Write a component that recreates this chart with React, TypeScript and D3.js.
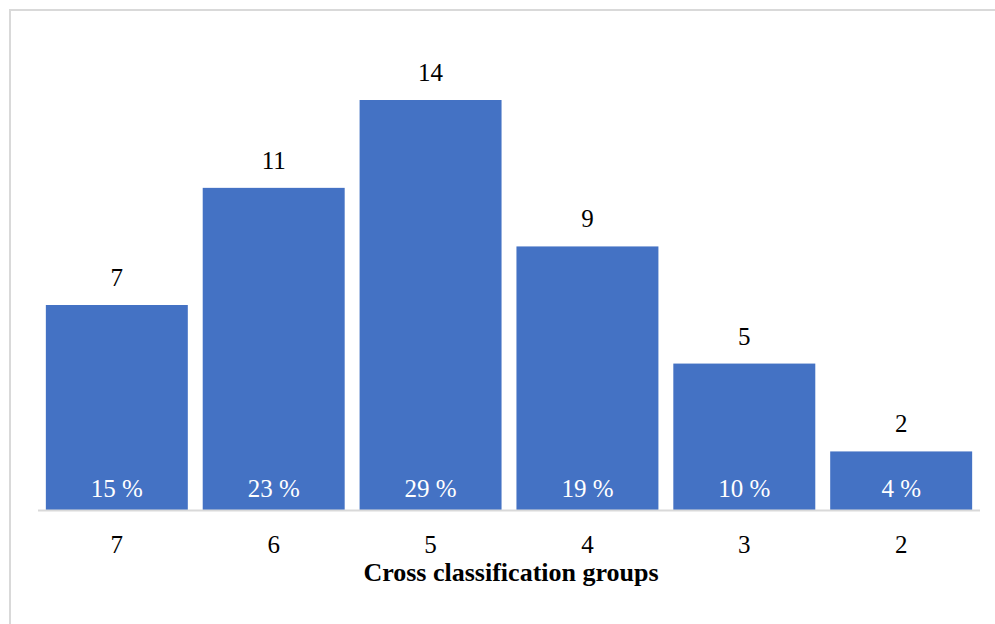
import React from "react";
import * as d3 from "d3";

const categories = ["7", "6", "5", "4", "3", "2"];
const counts = [7, 11, 14, 9, 5, 2];
const percents = ["15 %", "23 %", "29 %", "19 %", "10 %", "4 %"];
const axisTitle = "Cross classification groups";

const W = 995;
const H = 624;
const FONT = "'Liberation Serif', 'Times New Roman', serif";

export default function App() {
  const x = d3.scaleBand<string>().domain(categories).range([38, 980]).paddingInner(0.095).paddingOuter(0.05);
  const y = d3.scaleLinear().domain([0, 14]).range([510, 100]);
  return (
    <svg width={W} height={H} style={{ position: "absolute", left: 0, top: 0 }}>
      <rect x={0} y={0} width={W} height={H} fill="#fff" />
      <rect x={10} y={10} width={W + 20} height={H + 20} fill="#fff" stroke="#d9d9d9" strokeWidth={2} />
      {categories.map((c, i) => {
        const bx = x(c)!;
        const bw = x.bandwidth();
        const cx = bx + bw / 2;
        return (
          <g key={c}>
            <rect x={bx} y={y(counts[i])} width={bw} height={y(0) - y(counts[i])} fill="#4472C4" />
            <text x={cx} y={y(counts[i]) - 19} textAnchor="middle" fontFamily={FONT} fontSize={25} fill="#000">
              {counts[i]}
            </text>
            <text x={cx} y={497} textAnchor="middle" fontFamily={FONT} fontSize={25} fill="#fff">
              {percents[i]}
            </text>
            <text x={cx} y={553} textAnchor="middle" fontFamily={FONT} fontSize={25} fill="#000">
              {c}
            </text>
          </g>
        );
      })}
      <line x1={38} x2={980} y1={510.5} y2={510.5} stroke="#d9d9d9" strokeWidth={2} />
      <text x={511} y={581} textAnchor="middle" fontFamily={FONT} fontSize={26} fontWeight="bold" fill="#000">
        {axisTitle}
      </text>
    </svg>
  );
}
